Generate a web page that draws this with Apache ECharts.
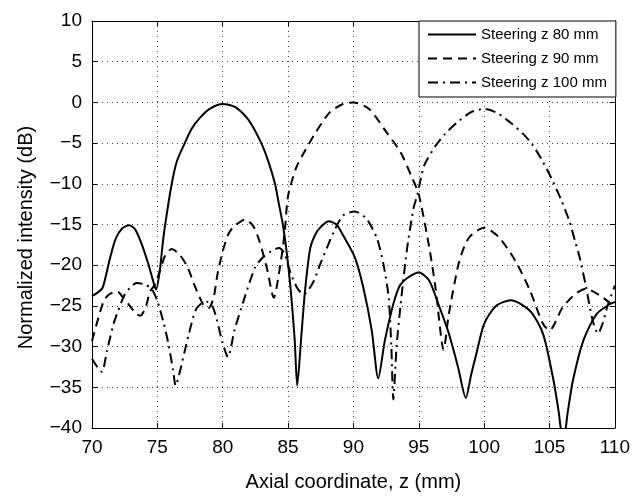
<!DOCTYPE html>
<html>
<head>
<meta charset="utf-8">
<script src="https://cdn.jsdelivr.net/npm/echarts@6/dist/echarts.min.js"></script>
<style>
html, body { margin: 0; padding: 0; background: #fff; }
#main { width: 633px; height: 497px; }
</style>
</head>
<body>
<div id="main"></div>
<script>
// axial coordinate z (mm) and normalized intensity (dB)
var z80 = [70, 70.4, 70.8, 71.15, 71.4, 71.8, 72.3, 72.85, 73.3, 73.8, 74.3, 74.6, 74.9, 75.2, 75.4, 75.6, 76.1, 76.5, 77.1, 77.6, 78.2, 79, 80, 81, 82, 82.95, 83.5, 84, 84.3, 84.6, 84.9, 85.2, 85.5, 85.7, 86, 86.3, 86.7, 87.2, 87.7, 88.1, 88.7, 89.2, 90.1, 90.75, 91.4, 91.9, 92.4, 93.05, 93.55, 94.1, 95, 95.8, 96.5, 97.3, 98, 98.6, 99, 99.4, 100, 100.9, 102.05, 103.5, 104.5, 105.3, 105.7, 106.05, 106.4, 106.8, 107.6, 108.6, 109.6, 110]
var db80 = [-23.8, -23.4, -22.8, -20.7, -19, -16.8, -15.5, -15.1, -15.6, -17.4, -19.8, -21.5, -23, -20.5, -17.5, -15, -10, -7.2, -5, -3.3, -2, -0.8, -0.2, -0.6, -2.2, -5, -7.3, -10, -12.5, -15, -18.5, -23, -29, -34.8, -29, -23.1, -17.9, -15.9, -15, -14.6, -15, -16.3, -19, -22.7, -28, -33.9, -29.3, -24.8, -22.5, -21.6, -20.9, -21.9, -24.8, -28.4, -32.5, -36.3, -33.5, -30.9, -27.2, -25, -24.3, -25.6, -28.4, -34.1, -38, -42, -38, -34.1, -29.2, -26, -24.8, -24.5]

var z90 = [70, 70.5, 70.9, 71.3, 71.9, 72.4, 72.8, 73.4, 73.7, 74.1, 74.45, 74.8, 75.2, 75.6, 76.1, 76.7, 77.3, 77.9, 78.5, 78.9, 79.3, 79.6, 80, 80.4, 80.8, 81.3, 81.7, 82.3, 82.8, 83.4, 83.9, 84.45, 84.75, 85, 85.6, 86.1, 87.15, 88.2, 89.2, 90, 91.2, 92.5, 93.6, 94.5, 95, 95.8, 96.3, 96.9, 97.3, 98.1, 98.85, 100, 101.15, 102.4, 103.5, 104.5, 105, 106, 107, 107.8, 109.1, 110]
var db90 = [-29.3, -26.4, -24.4, -23.6, -23.2, -24, -24.8, -26, -26.2, -25.2, -23.2, -22.4, -20.7, -18.8, -18, -18.7, -20.2, -22.7, -24.8, -25.3, -24, -21.1, -18.3, -16.3, -15.3, -14.7, -14.4, -15.1, -17, -20.5, -24, -19.5, -15.8, -11.5, -8.1, -6.5, -3.6, -1.2, -0.2, 0, -0.8, -3.6, -6.1, -9.3, -11.3, -17.8, -23, -30.4, -26, -19.5, -16.6, -15.4, -16.6, -19.5, -23.1, -27.2, -28, -25.2, -23.5, -22.9, -24, -25.2]

var z100 = [70, 70.4, 70.75, 71.15, 71.65, 72, 72.5, 72.9, 73.4, 74.1, 74.6, 75, 75.5, 75.85, 76.2, 76.4, 76.75, 77.1, 77.4, 77.9, 78.3, 78.8, 79.2, 79.5, 80, 80.4, 80.9, 81.65, 82.5, 83.1, 83.7, 84.3, 84.7, 85.2, 85.7, 86.2, 86.95, 87.45, 88.5, 89.2, 90.1, 91, 91.8, 92.3, 92.7, 92.9, 93.05, 93.3, 93.6, 94.1, 94.6, 94.9, 95.4, 96.3, 97, 97.9, 99, 100, 101, 102.1, 103, 103.7, 104.5, 105.2, 105.9, 106.5, 107, 107.3, 107.8, 108.3, 108.7, 109.1, 109.4, 110]
var db100 = [-31.5, -32.5, -33.1, -30.5, -27.2, -25.6, -23.6, -22.8, -22.2, -22.4, -23, -24.4, -27.2, -29.7, -32.9, -34.8, -32.9, -30.5, -28.5, -25.6, -24.8, -24.5, -25, -26.4, -29.6, -31.3, -28, -24.1, -20.2, -19, -18.3, -17.9, -18.5, -21, -22.8, -23.6, -22, -19.9, -15.9, -13.9, -13.4, -14.3, -16.7, -19.9, -24, -30, -36.5, -30, -25, -18, -13, -11.3, -7.8, -5.3, -3.9, -2.5, -1.2, -0.8, -1.3, -2.6, -3.9, -5.2, -7.3, -9.5, -12, -14.5, -17.3, -19, -22.7, -26.8, -28.4, -27, -25.2, -22.5]

var seriesNames = ['Steering z 80 mm', 'Steering z 90 mm', 'Steering z 100 mm']

function pairs (xs, ys) {
  return xs.map(function (x, i) { return [x, ys[i]] })
}

var font = '"Liberation Sans", Arial, sans-serif'
var minus = function (v) { return String(v).replace('-', '\u2212') }

var myChart = echarts.init(document.getElementById('main'))

var gridAxisLine = { show: true, onZero: false, lineStyle: { color: '#000', width: 1 } }
var inTick = { show: true, inside: true, length: 5, lineStyle: { color: '#000' } }

myChart.setOption({
  backgroundColor: '#fff',
  animation: false,
  grid: { left: 92, right: 17, top: 21, bottom: 64 },
  legend: {
    data: seriesNames,
    orient: 'vertical',
    left: 419,
    top: 21,
    backgroundColor: '#fff',
    borderColor: '#000',
    borderWidth: 1,
    borderRadius: 0,
    padding: [6, 9, 7, 8],
    itemWidth: 48,
    itemHeight: 14,
    itemGap: 9,
    itemStyle: { opacity: 0 },
    textStyle: { fontFamily: font, fontSize: 15, color: '#000' }
  },
  xAxis: [
    {
      type: 'value',
      min: 70,
      max: 110,
      interval: 5,
      name: 'Axial coordinate, z (mm)',
      nameLocation: 'middle',
      nameGap: 44,
      nameTextStyle: { fontFamily: font, fontSize: 20, color: '#000' },
      axisLine: gridAxisLine,
      axisTick: inTick,
      axisLabel: { fontFamily: font, fontSize: 19, color: '#000', margin: 10 },
      splitLine: { show: true, lineStyle: { type: [1, 4], color: '#444', width: 1 } }
    },
    {
      type: 'value',
      position: 'top',
      min: 70,
      max: 110,
      interval: 5,
      axisLine: gridAxisLine,
      axisTick: inTick,
      axisLabel: { show: false },
      splitLine: { show: false }
    }
  ],
  yAxis: [
    {
      type: 'value',
      min: -40,
      max: 10,
      interval: 5,
      name: 'Normalized intensity (dB)',
      nameLocation: 'middle',
      nameGap: 56,
      nameTextStyle: { fontFamily: font, fontSize: 20, color: '#000', padding: [0, 26, 0, 0] },
      axisLine: gridAxisLine,
      axisTick: inTick,
      axisLabel: { fontFamily: font, fontSize: 19, color: '#000', margin: 10, formatter: minus },
      splitLine: { show: true, lineStyle: { type: [1, 4], color: '#444', width: 1 } }
    },
    {
      type: 'value',
      position: 'right',
      min: -40,
      max: 10,
      interval: 5,
      axisLine: gridAxisLine,
      axisTick: inTick,
      axisLabel: { show: false },
      splitLine: { show: false }
    }
  ],
  series: [
    {
      name: seriesNames[0],
      type: 'line',
      data: pairs(z80, db80),
      showSymbol: false,
      symbol: 'none',
      smooth: 0.25,
      clip: true,
      lineStyle: { color: '#000', width: 2, type: 'solid' },
      itemStyle: { color: '#000' }
    },
    {
      name: seriesNames[1],
      type: 'line',
      data: pairs(z90, db90),
      showSymbol: false,
      symbol: 'none',
      smooth: 0.25,
      clip: true,
      lineStyle: { color: '#000', width: 2, type: [9, 6] },
      itemStyle: { color: '#000' }
    },
    {
      name: seriesNames[2],
      type: 'line',
      data: pairs(z100, db100),
      showSymbol: false,
      symbol: 'none',
      smooth: 0.25,
      clip: true,
      lineStyle: { color: '#000', width: 2, type: [10, 5, 2, 5] },
      itemStyle: { color: '#000' }
    }
  ]
})
</script>
</body>
</html>
